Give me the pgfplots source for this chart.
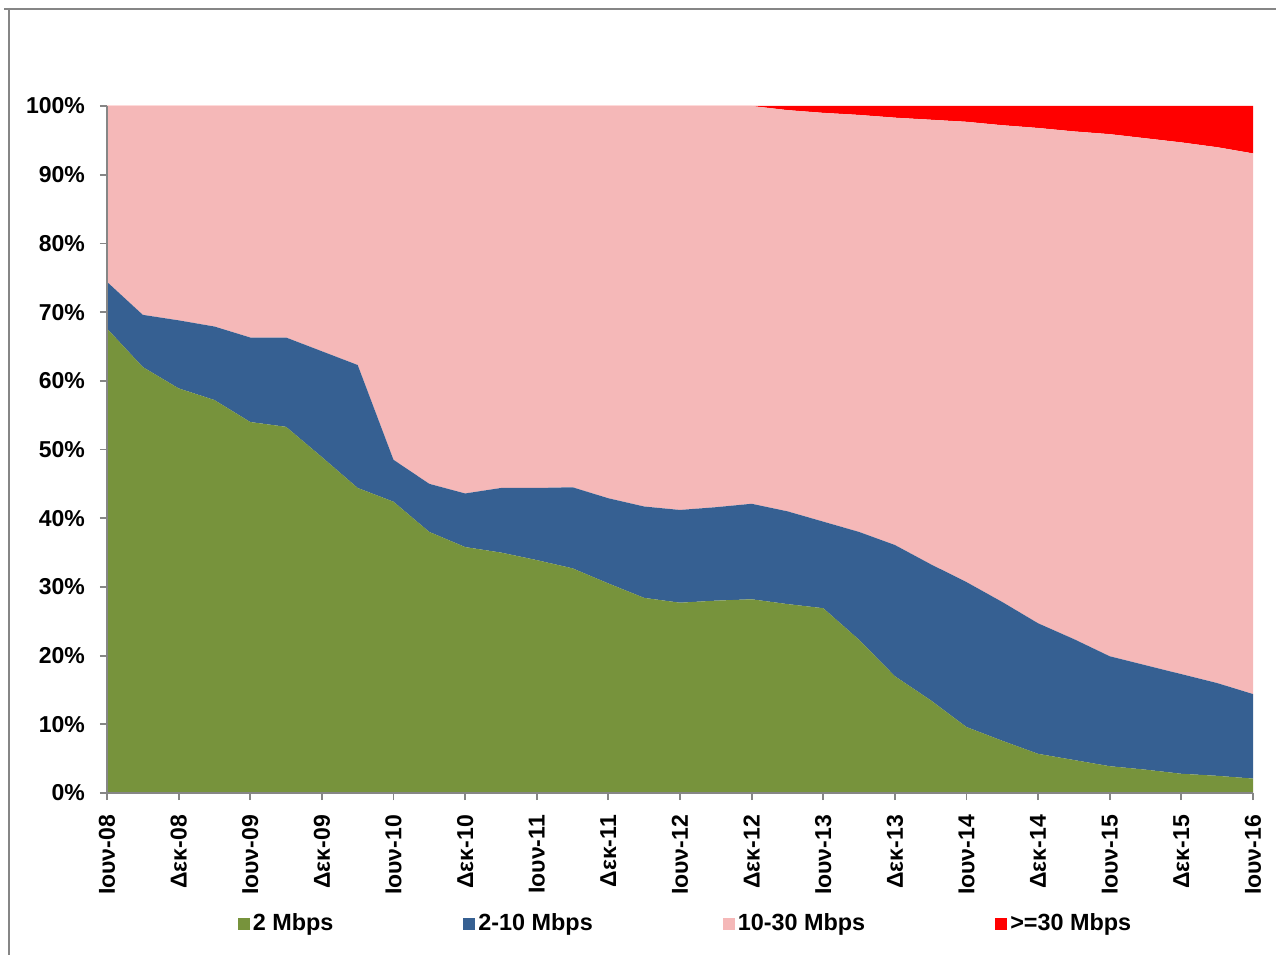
\documentclass[border=0pt]{standalone}
\usepackage{fontspec}
\setmainfont{Liberation Sans}
\usepackage{pgfplots}
\usepackage{pgfplotstable}
\pgfplotsset{compat=1.18}
\definecolor{cgreen}{RGB}{119,147,60}
\definecolor{cblue}{RGB}{54,96,146}
\definecolor{cpink}{RGB}{245,184,184}
\definecolor{cred}{RGB}{255,0,0}
\definecolor{cgray}{RGB}{134,134,134}
\pgfplotstableread{
x g b p r
0 67.6 6.8 25.6 0
1 62.0 7.6 30.4 0
2 58.9 9.9 31.2 0
3 57.2 10.7 32.1 0
4 54.0 12.3 33.7 0
5 53.3 13.0 33.7 0
6 48.9 15.4 35.7 0
7 44.4 17.9 37.7 0
8 42.4 6.1 51.5 0
9 38.0 7.0 55.0 0
10 35.8 7.8 56.4 0
11 35.0 9.4 55.6 0
12 33.9 10.5 55.6 0
13 32.7 11.8 55.5 0
14 30.5 12.4 57.1 0
15 28.4 13.3 58.3 0
16 27.7 13.5 58.8 0
17 28.0 13.6 58.4 0
18 28.2 13.9 57.9 0
19 27.5 13.5 58.4 0.6
20 26.9 12.6 59.5 1.0
21 22.3 15.7 60.7 1.3
22 17.0 19.1 62.2 1.7
23 13.5 19.8 64.7 2.0
24 9.6 21.1 67.0 2.3
25 7.6 20.2 69.4 2.8
26 5.7 19.0 72.1 3.2
27 4.8 17.6 73.9 3.7
28 3.9 16.0 76.0 4.1
29 3.4 15.2 76.7 4.7
30 2.8 14.5 77.4 5.3
31 2.5 13.5 78.0 6.0
32 2.1 12.3 78.7 6.9
}\datatable
\begin{document}
\begin{tikzpicture}
\path[use as bounding box] (0pt,0pt) rectangle (638pt,477.5pt);
\draw[cgray, line width=1pt] (2pt,473pt) -- (638pt,473pt);
\draw[cgray, line width=1pt] (4.5pt,473.5pt) -- (4.5pt,0pt);
\begin{axis}[
  at={(53.5pt,81pt)}, anchor=south west,
  width=573pt, height=343.5pt, scale only axis,
  xmin=0, xmax=32, ymin=0, ymax=100, enlargelimits=false,
  stack plots=y, area style,
  axis lines*=left,
  axis line style={cgray, line width=0.9pt},
  tick style={cgray, line width=0.9pt},
  tick align=outside, major tick length=3.5pt,
  ytick={0,10,...,100},
  yticklabel={\pgfmathprintnumber{\tick}\%},
  /pgf/number format/assume math mode=true,
  ticklabel style={font=\fontsize{11.5}{13}\selectfont\bfseries, text=black},
  xtick={0,2,...,32},
  xticklabels={Ιουν-08,Δεκ-08,Ιουν-09,Δεκ-09,Ιουν-10,Δεκ-10,Ιουν-11,Δεκ-11,Ιουν-12,Δεκ-12,Ιουν-13,Δεκ-13,Ιουν-14,Δεκ-14,Ιουν-15,Δεκ-15,Ιουν-16},
  xticklabel style={rotate=90, anchor=east},
  xticklabel shift=4pt,
  yticklabel shift=4pt,
  legend style={at={(0.5,-0.190)}, anchor=center, xshift=3pt, draw=none, fill=none,
    legend columns=4, font=\fontsize{11.7}{14}\selectfont\bfseries,
    /tikz/every even column/.append style={column sep=63.5pt},
    nodes={inner sep=1.5pt}},
  legend image code/.code={\fill[#1] (0pt,-3pt) rectangle (6pt,3pt);},
  axis on top,
]
\addplot[draw=none, fill=cgreen] table[x=x,y=g]{\datatable} \closedcycle;
\addplot[draw=none, fill=cblue] table[x=x,y=b]{\datatable} \closedcycle;
\addplot[draw=none, fill=cpink] table[x=x,y=p]{\datatable} \closedcycle;
\addplot[draw=none, fill=cred] table[x=x,y=r]{\datatable} \closedcycle;
\legend{2 Mbps, 2-10 Mbps, 10-30 Mbps, >=30 Mbps}
\end{axis}
\end{tikzpicture}
\end{document}
